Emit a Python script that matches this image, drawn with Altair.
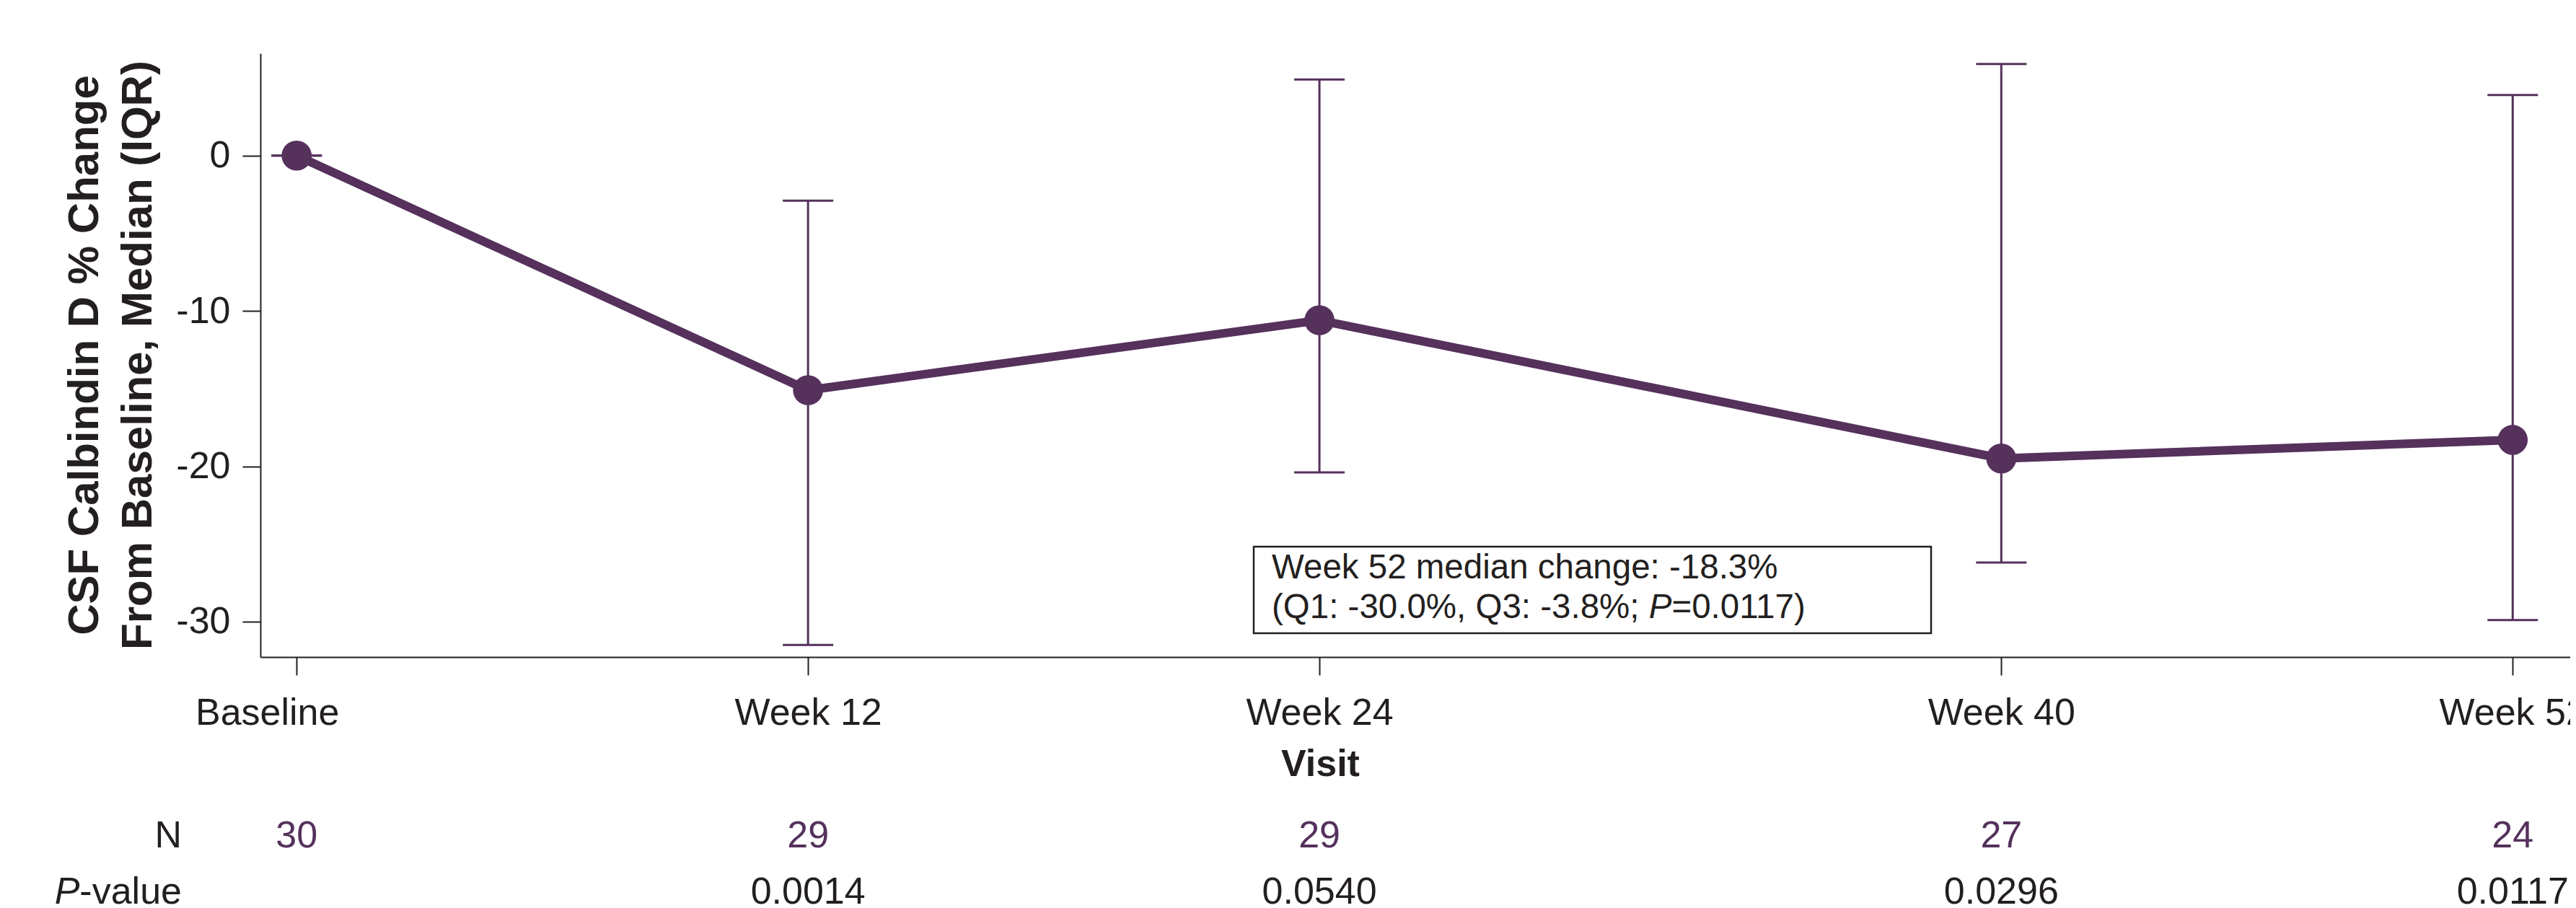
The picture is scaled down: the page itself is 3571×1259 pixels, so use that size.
import altair as alt
import pandas as pd

# ---------------- data ----------------
weeks = [0, 12, 24, 40, 52]
visits = ["Baseline", "Week 12", "Week 24", "Week 40", "Week 52"]
median = [0.0, -15.1, -10.6, -19.5, -18.3]
q1 = [0.0, -31.5, -20.4, -26.2, -29.9]
q3 = [0.0, -2.9, 4.9, 5.9, 3.9]
n_subj = [30, 29, 29, 27, 24]
p_values = ["", "0.0014", "0.0540", "0.0296", "0.0117"]
y_ticks = [0, -10, -20, -30]

y_title = ["CSF Calbindin D % Change", "From Baseline, Median (IQR)"]
x_title = "Visit"
note_line1 = "Week 52 median change: -18.3%"
note_line2_a = "(Q1: -30.0%, Q3: -3.8%;"
note_line2_p = "P"
note_line2_b = "=0.0117)"

# ---------------- style ----------------
PURPLE = "#55315c"
INK = "#231f20"
FONT = "Liberation Sans"

# Arial / Liberation Sans advance widths (per 1000 em) for layout of mixed-style text
AW = {' ': 278, '(': 333, ')': 333, 'Q': 778, '1': 556, ':': 278, '-': 333, '3': 556,
      '0': 556, '.': 278, '%': 889, ',': 278, '8': 556, ';': 278, 'P': 667, '=': 584,
      '7': 556, 'v': 500, 'a': 556, 'l': 222, 'u': 556, 'e': 556}


def text_width(s, fs):
    return sum(AW.get(c, 556) for c in s) * fs / 1000.0


df = pd.DataFrame({"week": weeks, "visit": visits, "median": median,
                   "q1": q1, "q3": q3, "n": n_subj, "p": p_values})

x_scale = alt.Scale(domain=[-0.85, 53.35], nice=False, zero=False)
y_scale = alt.Scale(domain=[-32.28, 6.58], nice=False, zero=False)

label_expr = " : ".join(f"datum.value == {w} ? '{v}'" for w, v in zip(weeks, visits)) + " : ''"

x_axis = alt.Axis(values=weeks, labelExpr=label_expr, title=x_title,
                  titleX=1469, titleY=123, titleBaseline="top", titleAlign="center",
                  titleFontSize=52, titleFontWeight="bold",
                  labelFontSize=52, labelPadding=27, tickSize=25, grid=False,
                  labelFlush=False, labelOverlap=False, labelLimit=1000,
                  labelOffset={"condition": {"test": f"datum.value == {weeks[0]}", "value": -41},
                               "value": 0})
y_axis = alt.Axis(values=y_ticks, labelExpr="datum.value + ''",
                  title=y_title, titleAngle=270, titleX=-273, titleY=418,
                  titleAlign="center", titleBaseline="top", titleLineHeight=74,
                  titleFontSize=60, titleFontWeight="bold", titleLimit=2000,
                  labelFontSize=52, labelPadding=17, tickSize=25, grid=False)

X = alt.X("week:Q", scale=x_scale, axis=x_axis)

base = alt.Chart(df)

bars = base.mark_rule(color=PURPLE, strokeWidth=3).encode(
    x=X, y=alt.Y("q1:Q", scale=y_scale, axis=y_axis), y2="q3:Q")
cap_lo = base.mark_tick(orient="horizontal", size=70, thickness=3, color=PURPLE, opacity=1).encode(
    x=X, y=alt.Y("q1:Q", scale=y_scale, axis=y_axis))
cap_hi = base.mark_tick(orient="horizontal", size=70, thickness=3, color=PURPLE, opacity=1).encode(
    x=X, y=alt.Y("q3:Q", scale=y_scale, axis=y_axis))
line = base.mark_line(color=PURPLE, strokeWidth=12).encode(
    x=X, y=alt.Y("median:Q", scale=y_scale, axis=y_axis))
points = base.mark_circle(color=PURPLE, size=1735, opacity=1).encode(
    x=X, y=alt.Y("median:Q", scale=y_scale, axis=y_axis))

# N row and P-value row beneath the axis
n_row = base.mark_text(font=FONT, fontSize=52, color=PURPLE, align="center",
                       baseline="alphabetic").encode(
    x=X, y=alt.value(1101), text="n:N")
p_row = base.transform_filter("datum.p != ''").mark_text(
    font=FONT, fontSize=52, color=INK, align="center", baseline="alphabetic").encode(
    x=X, y=alt.value(1179), text="p:N")

one = alt.InlineData(values=[{"k": 1}])
ROW_X = -109
n_label = alt.Chart(one).mark_text(font=FONT, fontSize=52, color=INK, align="right",
                                   baseline="alphabetic", text="N").encode(
    x=alt.value(ROW_X), y=alt.value(1101))
pv_rest = alt.Chart(one).mark_text(font=FONT, fontSize=52, color=INK, align="right",
                                   baseline="alphabetic", text="-value").encode(
    x=alt.value(ROW_X), y=alt.value(1179))
pv_p = alt.Chart(one).mark_text(font=FONT, fontSize=52, color=INK, align="right",
                                baseline="alphabetic", fontStyle="italic", text="P").encode(
    x=alt.value(ROW_X - text_width("-value", 52)), y=alt.value(1179))

# annotation box
NOTE_FS = 47.5
NX = 1402
box = alt.Chart(one).mark_rect(filled=False, stroke=INK, strokeWidth=2.5).encode(
    x=alt.value(1377), x2=alt.value(2316), y=alt.value(684), y2=alt.value(804))
note1 = alt.Chart(one).mark_text(font=FONT, fontSize=NOTE_FS, color=INK, align="left",
                                 baseline="alphabetic", text=note_line1).encode(
    x=alt.value(NX), y=alt.value(728))
xp = NX + text_width(note_line2_a + " ", NOTE_FS)
note2a = alt.Chart(one).mark_text(font=FONT, fontSize=NOTE_FS, color=INK, align="left",
                                  baseline="alphabetic", text=note_line2_a).encode(
    x=alt.value(NX), y=alt.value(783))
note2p = alt.Chart(one).mark_text(font=FONT, fontSize=NOTE_FS, color=INK, align="left",
                                  baseline="alphabetic", fontStyle="italic",
                                  text=note_line2_p).encode(
    x=alt.value(xp), y=alt.value(783))
note2b = alt.Chart(one).mark_text(font=FONT, fontSize=NOTE_FS, color=INK, align="left",
                                  baseline="alphabetic", text=note_line2_b).encode(
    x=alt.value(xp + text_width(note_line2_p, NOTE_FS)), y=alt.value(783))

chart = alt.layer(
    bars, cap_lo, cap_hi, line, points, n_row, p_row, n_label, pv_rest, pv_p,
    box, note1, note2a, note2p, note2b
).properties(
    width=3202, height=837,
    padding={"left": 353, "top": 66, "right": 0, "bottom": 348},
    autosize=alt.AutoSizeParams(type="none"),
    background="white",
).configure_view(stroke=None).configure_axis(
    domainColor=INK, domainWidth=2, tickColor=INK, tickWidth=2,
    labelColor=INK, titleColor=INK, labelFont=FONT, titleFont=FONT,
)

chart.save("out.html", embed_options={"renderer": "svg", "actions": False})
